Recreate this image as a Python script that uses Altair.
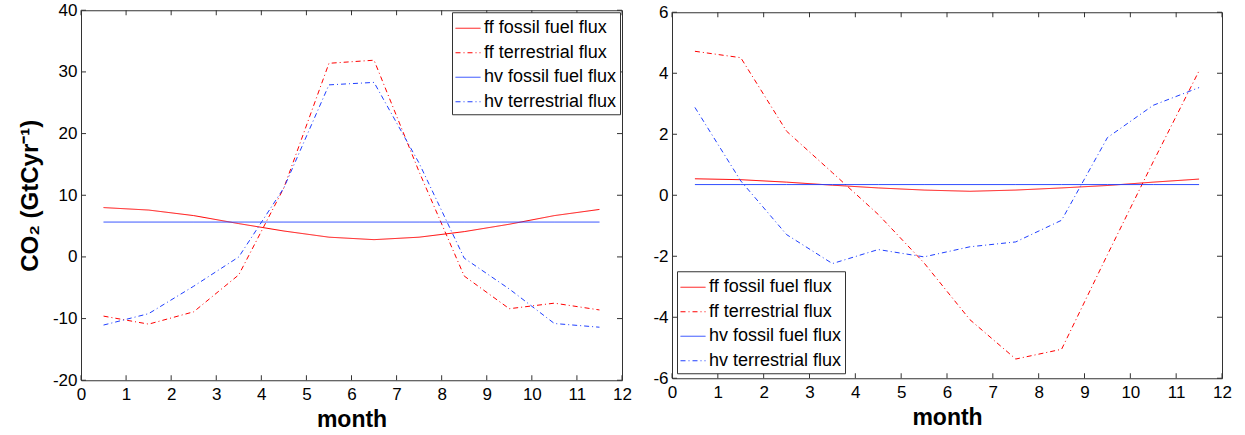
import altair as alt
import pandas as pd

months = [0.5, 1.5, 2.5, 3.5, 4.5, 5.5, 6.5, 7.5, 8.5, 9.5, 10.5, 11.5]
series_names = ["ff fossil fuel flux", "ff terrestrial flux", "hv fossil fuel flux", "hv terrestrial flux"]

# left panel
L_ff_fossil = [8.0, 7.6, 6.7, 5.4, 4.2, 3.2, 2.8, 3.2, 4.1, 5.3, 6.7, 7.7]
L_ff_terr = [-9.6, -10.9, -8.9, -2.9, 11.2, 31.4, 31.9, 13.8, -3.1, -8.4, -7.5, -8.6]
L_hv_fossil = [5.65, 5.65, 5.65, 5.65, 5.65, 5.65, 5.65, 5.65, 5.65, 5.65, 5.65, 5.65]
L_hv_terr = [-11.05, -9.2, -4.75, 0.0, 11.2, 27.9, 28.3, 15.2, -0.2, -5.2, -10.8, -11.4]

# right panel
R_ff_fossil = [0.54, 0.51, 0.43, 0.33, 0.24, 0.17, 0.13, 0.17, 0.24, 0.32, 0.43, 0.53]
R_ff_terr = [4.72, 4.51, 2.1, 0.74, -0.63, -2.22, -4.08, -5.37, -5.05, -1.95, 1.1, 4.08]
R_hv_fossil = [0.35, 0.35, 0.35, 0.35, 0.35, 0.35, 0.35, 0.35, 0.35, 0.35, 0.35, 0.35]
R_hv_terr = [2.88, 0.47, -1.29, -2.24, -1.78, -2.02, -1.69, -1.53, -0.82, 1.89, 2.95, 3.53]

x_ticks = [0, 1, 2, 3, 4, 5, 6, 7, 8, 9, 10, 11, 12]
L_y_ticks = [-20, -10, 0, 10, 20, 30, 40]
R_y_ticks = [-6, -4, -2, 0, 2, 4, 6]

RED = "#ff0000"
BLUE = "#1f3fff"
FRAME = "#333333"
FONT = "Liberation Sans"
colors = [RED, RED, BLUE, BLUE]
dashes = [[1, 0], [5, 3, 1, 3], [1, 0], [5, 3, 1, 3]]
HYPHEN_EXPR = "replace(datum.label, '\u2212', '-')"


def long_table(lists):
    rows = []
    for name, vals in zip(series_names, lists):
        for m, v in zip(months, vals):
            rows.append({"month": m, "value": v, "series": name})
    return pd.DataFrame(rows)


def tick_layer(vals, channel, scale, axis, side, w, h):
    df = pd.DataFrame({"t": vals})
    base = alt.Chart(df).mark_rule(color=FRAME, strokeWidth=1)
    if channel == "x":
        enc = {"x": alt.X("t:Q", scale=scale, axis=axis)}
        if side == "bottom":
            enc.update(y=alt.value(h - 5), y2=alt.value(h))
        else:
            enc.update(y=alt.value(0), y2=alt.value(5))
    else:
        enc = {"y": alt.Y("t:Q", scale=scale, axis=axis)}
        if side == "left":
            enc.update(x=alt.value(0), x2=alt.value(5))
        else:
            enc.update(x=alt.value(w - 5), x2=alt.value(w))
    return base.encode(**enc)


def panel(lists, y_domain, y_ticks, w, h, y_title, legend_orient, legend_offset):
    df = long_table(lists)
    xs = alt.Scale(domain=[0, 12], nice=False, zero=False)
    ys = alt.Scale(domain=y_domain, nice=False, zero=False)
    leg = alt.Legend(
        title=None, orient=legend_orient, offset=legend_offset,
        strokeColor=FRAME, fillColor="white", padding=3,
        symbolType="stroke", symbolSize=625, symbolStrokeWidth=1,
        labelFont=FONT, labelFontSize=18, labelColor="black",
        labelOffset=3, rowPadding=2.5,
    )
    yaxis_kw = dict(
        values=y_ticks, ticks=False, tickSize=0, domain=False, grid=False,
        labelFont=FONT, labelFontSize=17, labelColor="black", labelPadding=4,
        labelExpr=HYPHEN_EXPR,
    )
    if y_title:
        yaxis_kw.update(title=y_title, titleFont=FONT, titleFontSize=24,
                        titleFontWeight="bold", titleColor="black", titlePadding=10)
    else:
        yaxis_kw.update(title="")
    yaxis = alt.Axis(**yaxis_kw)
    xaxis = alt.Axis(
        values=x_ticks, ticks=False, tickSize=0, domain=False, grid=False,
        labelFlush=False, labelFont=FONT, labelFontSize=17, labelColor="black",
        labelPadding=6, title="month", titleFont=FONT, titleFontSize=23,
        titleFontWeight="bold", titleColor="black", titlePadding=6)
    lines = alt.Chart(df).mark_line(strokeWidth=1).encode(
        x=alt.X("month:Q", scale=xs, axis=xaxis),
        y=alt.Y("value:Q", scale=ys, axis=yaxis),
        color=alt.Color("series:N", scale=alt.Scale(domain=series_names, range=colors), legend=leg),
        strokeDash=alt.StrokeDash("series:N", scale=alt.Scale(domain=series_names, range=dashes), legend=leg),
    )
    layers = [
        lines,
        tick_layer(x_ticks, "x", xs, xaxis, "bottom", w, h),
        tick_layer(x_ticks, "x", xs, xaxis, "top", w, h),
        tick_layer(y_ticks, "y", ys, yaxis, "left", w, h),
        tick_layer(y_ticks, "y", ys, yaxis, "right", w, h),
    ]
    return alt.layer(*layers).properties(width=w, height=h)


left = panel([L_ff_fossil, L_ff_terr, L_hv_fossil, L_hv_terr], [-20, 40], L_y_ticks,
             541, 370, "CO\u2082 (GtCyr\u207b\u00b9)", "top-right", 2)
right = panel([R_ff_fossil, R_ff_terr, R_hv_fossil, R_hv_terr], [-6, 6], R_y_ticks,
              550, 366, None, "bottom-left", 5)

chart = alt.hconcat(left, right, spacing=20, center=True).resolve_scale(
    x="independent", y="independent", color="independent", strokeDash="independent"
).configure(
    padding={"left": 17, "top": 0, "right": 5, "bottom": 0},
    background="white",
).configure_view(stroke=FRAME, strokeWidth=1)

chart.save("out.html", embed_options={"renderer": "svg", "actions": False})
